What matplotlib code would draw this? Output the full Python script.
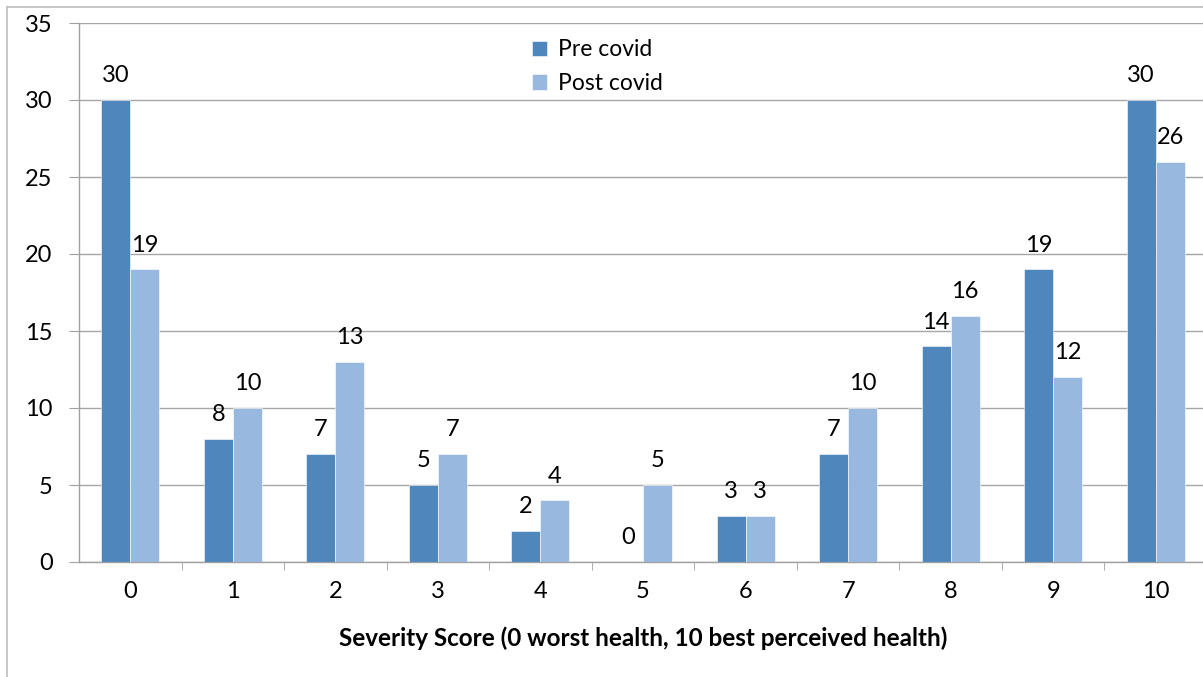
import matplotlib
matplotlib.use("Agg")
import matplotlib.pyplot as plt
import numpy as np
from matplotlib.lines import Line2D

categories = ["0", "1", "2", "3", "4", "5", "6", "7", "8", "9", "10"]
pre_covid = [30, 8, 7, 5, 2, 0, 3, 7, 14, 19, 30]
post_covid = [19, 10, 13, 7, 4, 5, 3, 10, 16, 12, 26]
series_names = ["Pre covid", "Post covid"]
yticks = [0, 5, 10, 15, 20, 25, 30, 35]
xlabel = "Severity Score (0 worst health, 10 best perceived health)"

plt.rcParams['font.family'] = ['Lato', 'DejaVu Sans']

W, H = 1203, 677
fig = plt.figure(figsize=(W / 100, H / 100), dpi=100)
ax = fig.add_axes([79 / W, 1 - 562 / H, (1207 - 79) / W, (562 - 23) / H])

FS = 17
pre_c = "#4F86BC"
post_c = "#98B8DF"
x = np.arange(len(categories))
bw = 0.283
b1 = ax.bar(x - bw / 2, pre_covid, bw, color=pre_c, edgecolor="white", linewidth=0.4, label=series_names[0], zorder=3)
b2 = ax.bar(x + bw / 2, post_covid, bw, color=post_c, edgecolor="white", linewidth=0.4, label=series_names[1], zorder=3)

for bars, vals in ((b1, pre_covid), (b2, post_covid)):
    for r, v in zip(bars, vals):
        ax.annotate(str(v), (r.get_x() + r.get_width() / 2, v), xytext=(0, 10),
                    textcoords="offset points", ha="center", va="bottom", fontsize=FS, color="black")

ax.set_xlim(-0.5, len(categories) - 0.5)
ax.set_ylim(0, 35)
ax.set_yticks(yticks)
ax.set_yticklabels([str(t) for t in yticks], fontsize=FS)
ax.set_xticks(x)
ax.set_xticklabels(categories, fontsize=FS)
ax.tick_params(axis="x", length=0, pad=14)
ax.set_xticks(np.arange(len(categories)) + 0.5, minor=True)
ax.tick_params(axis="x", which="minor", length=6, color="#A0A0A0", direction="out")
ax.tick_params(axis="y", length=7, color="#A0A0A0", direction="out", pad=12)
ax.grid(axis="y", color="#A6A6A6", linewidth=1, zorder=0)
for s in ["top", "right"]:
    ax.spines[s].set_visible(False)
for s in ["left", "bottom"]:
    ax.spines[s].set_color("#A0A0A0")
    ax.spines[s].set_linewidth(1)
ax.set_xlabel(xlabel, fontsize=17.5, fontweight="bold", labelpad=17)

ax.legend(loc="upper left", bbox_to_anchor=(521 / W, 1 - 28 / H), bbox_transform=fig.transFigure,
          frameon=False, fontsize=16.5, handlelength=0.65, handleheight=0.65, handletextpad=0.45,
          labelspacing=0.55, borderpad=0)

# outer chart border (partially visible)
fig.add_artist(Line2D([7 / W, 7 / W], [0, 1 - 7 / H], color="#BDBDBD", lw=1.2, transform=fig.transFigure))
fig.add_artist(Line2D([7 / W, 1], [1 - 7 / H, 1 - 7 / H], color="#BDBDBD", lw=1.2, transform=fig.transFigure))

fig.savefig("out.png", dpi=100)
